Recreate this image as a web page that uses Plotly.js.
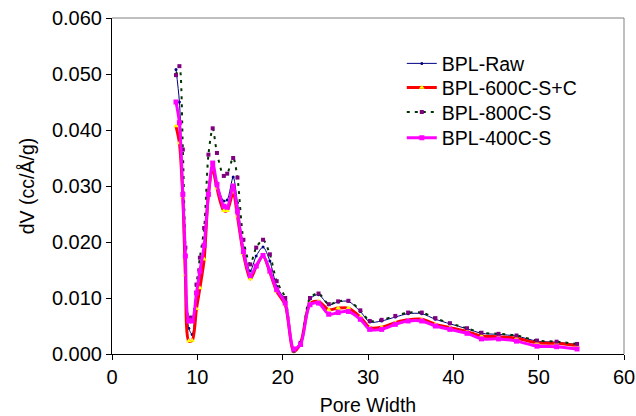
<!DOCTYPE html>
<html>
<head>
<meta charset="utf-8">
<script src="https://cdn.plot.ly/plotly-3.0.1.min.js"></script>
<style>html,body{margin:0;padding:0;background:#fff;}#chart{width:636px;height:416px;}</style>
</head>
<body>
<div id="chart"></div>
<script>
const poreWidth = [7.5, 7.9, 8.3, 8.6, 9.0, 9.4, 9.9, 10.3, 10.8, 11.3, 11.8, 12.3, 13.1, 13.5, 14.2, 14.7, 15.4, 16.2, 16.9, 17.7, 18.5, 19.3, 20.3, 21.3, 22.1, 23.2, 24.2, 25.4, 26.5, 27.7, 29.1, 30.2, 31.6, 33.2, 34.7, 36.3, 37.9, 39.6, 41.6, 43.3, 45.3, 47.4, 49.8, 52.1, 54.5];
const bplRaw = [0.0508, 0.0450, 0.0290, 0.0150, 0.0046, 0.0035, 0.0100, 0.0140, 0.0185, 0.0285, 0.0340, 0.0305, 0.0273, 0.0275, 0.0316, 0.0270, 0.0190, 0.0148, 0.0175, 0.0191, 0.0166, 0.0121, 0.0094, 0.0004, 0.0018, 0.0098, 0.0106, 0.0088, 0.0093, 0.0094, 0.0076, 0.0057, 0.0059, 0.0066, 0.0072, 0.0072, 0.0062, 0.0054, 0.0045, 0.0037, 0.0035, 0.0032, 0.0023, 0.0021, 0.0017];
const bpl600 = [0.0407, 0.0377, 0.0280, 0.0141, 0.0023, 0.0024, 0.0081, 0.0118, 0.0169, 0.0286, 0.0330, 0.0296, 0.0256, 0.0256, 0.0289, 0.0246, 0.0179, 0.0134, 0.0156, 0.0175, 0.0146, 0.0112, 0.0088, 0.0005, 0.0019, 0.0090, 0.0094, 0.0079, 0.0082, 0.0082, 0.0066, 0.0047, 0.0048, 0.0056, 0.0061, 0.0062, 0.0053, 0.0047, 0.0040, 0.0032, 0.0031, 0.0028, 0.0020, 0.0019, 0.0015];
const bpl800 = [0.0498, 0.0514, 0.0365, 0.0190, 0.0065, 0.0065, 0.0124, 0.0172, 0.0225, 0.0356, 0.0403, 0.0359, 0.0318, 0.0322, 0.0350, 0.0315, 0.0204, 0.0160, 0.0190, 0.0204, 0.0178, 0.0130, 0.0100, 0.0006, 0.0020, 0.0100, 0.0108, 0.0089, 0.0094, 0.0095, 0.0078, 0.0059, 0.0061, 0.0068, 0.0074, 0.0074, 0.0064, 0.0055, 0.0046, 0.0038, 0.0036, 0.0033, 0.0024, 0.0022, 0.0018];
const bpl400 = [0.0450, 0.0413, 0.0285, 0.0175, 0.0059, 0.0059, 0.0109, 0.0148, 0.0194, 0.0285, 0.0341, 0.0303, 0.0264, 0.0262, 0.0300, 0.0255, 0.0183, 0.0140, 0.0157, 0.0176, 0.0148, 0.0115, 0.0091, 0.0009, 0.0017, 0.0088, 0.0091, 0.0071, 0.0074, 0.0076, 0.0062, 0.0044, 0.0044, 0.0053, 0.0059, 0.0059, 0.0050, 0.0044, 0.0037, 0.0027, 0.0027, 0.0023, 0.0014, 0.0013, 0.0009];
const seriesNames = ["BPL-Raw", "BPL-600C-S+C", "BPL-800C-S", "BPL-400C-S"];
const xTickVals = [0, 10, 20, 30, 40, 50, 60];
const yTickVals = [0, 0.01, 0.02, 0.03, 0.04, 0.05, 0.06];

const FONT = "Liberation Sans, Arial, Helvetica, sans-serif";
const traces = [
  {x: poreWidth, y: bplRaw, name: seriesNames[0], mode: "lines+markers", legend: "legend",
   line: {color: "#000080", width: 1, shape: "spline", smoothing: 0.8},
   marker: {color: "#000080", size: 3, symbol: "circle"}},
  {x: poreWidth, y: bpl600, name: seriesNames[1], mode: "lines+markers", legend: "legend2",
   line: {color: "#FF0000", width: 3, shape: "spline", smoothing: 0.8},
   marker: {color: "#FFFF00", size: 5, symbol: "triangle-up"}},
  {x: poreWidth, y: bpl800, name: seriesNames[2], mode: "lines+markers", legend: "legend3",
   line: {color: "#003300", width: 2, dash: "3px,5px", shape: "spline", smoothing: 0.8},
   marker: {color: "#800080", size: 4, symbol: "square"}},
  {x: poreWidth, y: bpl400, name: seriesNames[3], mode: "lines+markers", legend: "legend4",
   line: {color: "#FF00FF", width: 3, shape: "spline", smoothing: 0.8},
   marker: {color: "#FF00FF", size: 5, symbol: "square"}}
];

function legendAt(y) {
  return {x: 0.566, y: y, xanchor: "left", yanchor: "top", bgcolor: "rgba(0,0,0,0)",
          font: {family: FONT, size: 19.5, color: "#000"}};
}

const layout = {
  width: 636, height: 416,
  margin: {l: 112, r: 12, t: 18, b: 62},
  paper_bgcolor: "#fff", plot_bgcolor: "#fff",
  font: {family: FONT, size: 20, color: "#000"},
  showlegend: true,
  legend: legendAt(0.922),
  legend2: legendAt(0.850),
  legend3: legendAt(0.777),
  legend4: legendAt(0.701),
  xaxis: {range: [0, 60], tickvals: xTickVals, ticks: "outside", ticklen: 5, tickcolor: "#000",
          tickfont: {family: FONT, size: 20},
          showline: true, linecolor: "#000", linewidth: 1, showgrid: false, zeroline: false,
          title: {text: "Pore Width", font: {family: FONT, size: 19.5}, standoff: 11}},
  yaxis: {range: [0, 0.06], tickvals: yTickVals, tickformat: ".3f", ticks: "outside", ticklen: 5, tickcolor: "#000",
          tickfont: {family: FONT, size: 20},
          showline: true, linecolor: "#000", linewidth: 1, showgrid: false, zeroline: false,
          title: {text: "dV (cc/Å/g)", font: {family: FONT, size: 19.5}, standoff: 12}},
  shapes: [
    {type: "line", xref: "paper", yref: "paper", x0: 0, x1: 1, y0: 1, y1: 1, line: {color: "#808080", width: 1}},
    {type: "line", xref: "paper", yref: "paper", x0: 1, x1: 1, y0: 0, y1: 1, line: {color: "#808080", width: 1}}
  ]
};

Plotly.newPlot("chart", traces, layout, {displayModeBar: false, staticPlot: true});
</script>
</body>
</html>
